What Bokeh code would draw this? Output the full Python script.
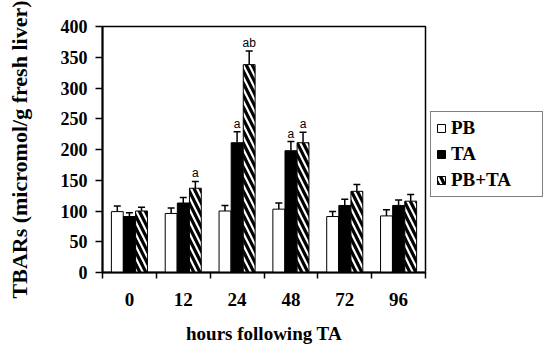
from bokeh.plotting import figure
from bokeh.models import (FixedTicker, Whisker, ColumnDataSource, Legend, LegendItem,
                          TeeHead, Range1d, LabelSet)
from bokeh.embed import file_html
from bokeh.resources import INLINE
from bokeh.core.properties import value

# ---- data ----
hours = ["0", "12", "24", "48", "72", "96"]
series_names = ["PB", "TA", "PB+TA"]
pb = [99, 96, 100, 103, 91, 92]
pb_err = [9, 9, 9, 10, 8, 10]
ta = [91, 113, 211, 198, 109, 109]
ta_err = [6, 9, 18, 15, 10, 9]
pbta = [100, 137, 338, 211, 132, 116]
pbta_err = [6, 11, 22, 17, 11, 11]
ta_sig = ["", "", "a", "a", "", ""]
pbta_sig = ["", "a", "ab", "a", "", ""]
y_ticks = [0, 50, 100, 150, 200, 250, 300, 350, 400]

SERIF = "Liberation Serif"
SANS = "Liberation Sans"

p = figure(frame_width=323, frame_height=246, output_backend="svg", toolbar_location=None,
           x_range=Range1d(-0.5, len(hours) - 0.5), y_range=Range1d(0, 400),
           min_border_left=102, min_border_right=118, min_border_top=26,
           min_border_bottom=72)
p.xgrid.visible = False
p.ygrid.visible = False
p.outline_line_color = "black"
p.outline_line_width = 1.5
p.background_fill_color = "white"
p.border_fill_color = "white"

idx = list(range(len(hours)))
bw = 0.22
off = 0.225

def make_src(vals, errs, sig, shift):
    return ColumnDataSource(dict(
        x=[i + shift for i in idx], val=vals,
        top=[v + e for v, e in zip(vals, errs)], sig=sig))

s_pb = make_src(pb, pb_err, [""] * len(hours), -off)
s_ta = make_src(ta, ta_err, ta_sig, 0.0)
s_pbta = make_src(pbta, pbta_err, pbta_sig, off)

r_pb = p.vbar(x="x", top="val", width=bw, source=s_pb, fill_color="white",
              line_color="black", line_width=1)
r_ta = p.vbar(x="x", top="val", width=bw, source=s_ta, fill_color="black",
              line_color="black", line_width=1)
r_pbta = p.vbar(x="x", top="val", width=bw, source=s_pbta, fill_color="white",
                line_color="black", line_width=1, hatch_pattern="\\",
                hatch_color="black", hatch_scale=12, hatch_weight=3.2)

for s in (s_pb, s_ta, s_pbta):
    w = Whisker(base="x", lower="val", upper="top", source=s, dimension="height",
                line_color="black", line_width=1.5, lower_head=None,
                upper_head=TeeHead(size=7, line_color="black", line_width=1.5))
    p.add_layout(w)

for s in (s_ta, s_pbta):
    lab = LabelSet(x="x", y="top", text="sig", source=s, y_offset=1,
                   text_align="center", text_baseline="bottom",
                   text_font=value(SANS), text_font_size="12px", text_color="black")
    p.add_layout(lab)

# x axis: labels at group centres, ticks at group boundaries
xa = p.xaxis[0]
xa.ticker = FixedTicker(ticks=idx, minor_ticks=[i - 0.5 for i in range(len(hours) + 1)])
xa.major_label_overrides = {i: h for i, h in zip(idx, hours)}
xa.major_tick_in = 0
xa.major_tick_out = 0
xa.minor_tick_in = 0
xa.minor_tick_out = 6
xa.minor_tick_line_color = "black"
xa.minor_tick_line_width = 1.5
xa.axis_line_width = 2
xa.axis_line_color = "black"
xa.major_label_standoff = 14
xa.major_label_text_font = SERIF
xa.major_label_text_font_style = "bold"
xa.major_label_text_font_size = "19px"
xa.major_label_text_color = "black"
xa.axis_label = "hours following TA"
xa.axis_label_text_font = SERIF
xa.axis_label_text_font_style = "bold"
xa.axis_label_text_font_size = "19px"
xa.axis_label_text_color = "black"
xa.axis_label_standoff = 14

ya = p.yaxis[0]
ya.ticker = FixedTicker(ticks=y_ticks)
ya.major_tick_in = 0
ya.major_tick_out = 7
ya.minor_tick_out = 0
ya.minor_tick_in = 0
ya.major_tick_line_width = 1.5
ya.major_tick_line_color = "black"
ya.axis_line_width = 2
ya.axis_line_color = "black"
ya.major_label_standoff = 8
ya.major_label_text_font = SERIF
ya.major_label_text_font_style = "bold"
ya.major_label_text_font_size = "18px"
ya.major_label_text_color = "black"
ya.axis_label = "TBARs (micromol/g fresh liver)"
ya.axis_label_text_font = SERIF
ya.axis_label_text_font_style = "bold"
ya.axis_label_text_font_size = "22px"
ya.axis_label_text_color = "black"
ya.axis_label_standoff = 26

legend = Legend(items=[LegendItem(label=series_names[0], renderers=[r_pb]),
                       LegendItem(label=series_names[1], renderers=[r_ta]),
                       LegendItem(label=series_names[2], renderers=[r_pbta])],
                location=(5, 75), orientation="vertical",
                glyph_width=10, glyph_height=10, label_standoff=5,
                label_height=20, label_width=86, spacing=4, padding=5, margin=0,
                border_line_color="black", border_line_width=1.5,
                background_fill_color="white", background_fill_alpha=1,
                label_text_font=SERIF, label_text_font_style="bold",
                label_text_font_size="19px", label_text_color="black")
p.add_layout(legend, "right")

open("out.html", "w").write(file_html(p, INLINE))
